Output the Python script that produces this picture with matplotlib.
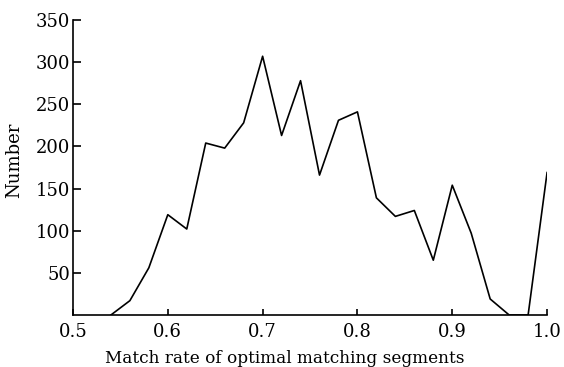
import numpy as np
import matplotlib
matplotlib.use("Agg")
import matplotlib.pyplot as plt

# match rate bins and counts
match_rate = [0.54, 0.56, 0.58, 0.60, 0.62, 0.64, 0.66, 0.68, 0.70, 0.72,
              0.74, 0.76, 0.78, 0.80, 0.82, 0.84, 0.86, 0.88, 0.90, 0.92,
              0.94, 0.96, 0.98, 1.00]
counts = [0, 17, 56, 119, 102, 204, 198, 228, 307, 213,
          278, 166, 231, 241, 139, 117, 124, 65, 154, 97,
          19, 0, 0, 169]

x_ticks = [0.5, 0.6, 0.7, 0.8, 0.9, 1.0]
y_ticks = [50, 100, 150, 200, 250, 300, 350]

plt.rcParams['font.family'] = ['DejaVu Serif']

fig = plt.figure(figsize=(5.64, 3.67), dpi=100)
ax = fig.add_axes([0.1294, 0.1417, 0.8406, 0.8038])
ax.plot(match_rate, counts, color='black', lw=1.2)

ax.set_xlim(0.5, 1.0)
ax.set_ylim(0, 350)
ax.set_xticks(x_ticks)
ax.set_xticklabels(['%.1f' % v for v in x_ticks])
ax.set_yticks(y_ticks)
ax.tick_params(direction='in', width=1.2, labelsize=13)
ax.tick_params(axis='x', length=4, pad=6)
ax.tick_params(axis='y', length=6, pad=2)
for s in ['top', 'right']:
    ax.spines[s].set_visible(False)
for s in ['left', 'bottom']:
    ax.spines[s].set_linewidth(1.2)

ax.set_xlabel('Match rate of optimal matching segments', fontsize=12.2)
ax.set_ylabel('Number', fontsize=13)
# labels sit a bit off-centre in the reference
ax.xaxis.set_label_coords(0.446, -0.119)
ax.yaxis.set_label_coords(-0.105, 0.524)

fig.savefig('out.png', dpi=100)
